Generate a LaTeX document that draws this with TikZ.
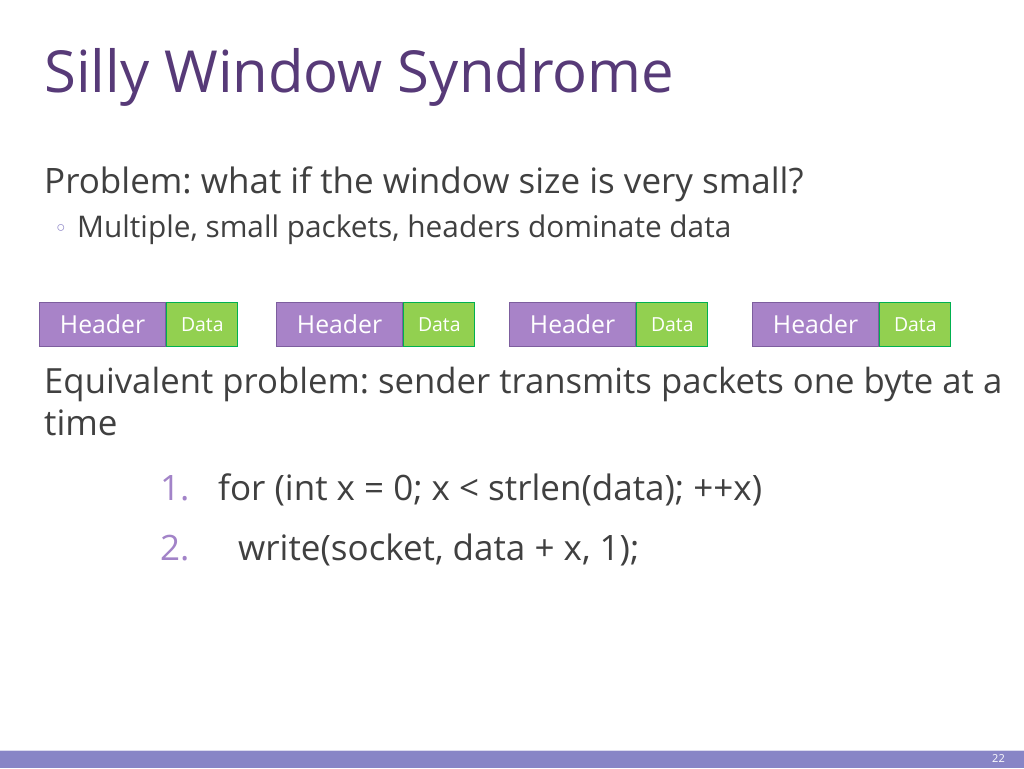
\documentclass[tikz,border=0pt]{standalone}
\usepackage{fontspec}
\setmainfont{Open Sans}
\newfontfamily\bulletfont{DejaVu Sans}
\definecolor{titlepurple}{HTML}{573A78}
\definecolor{bodygray}{HTML}{404040}
\definecolor{numlav}{HTML}{A283C8}
\definecolor{bulletlav}{HTML}{8C84C6}
\definecolor{hdrfill}{HTML}{A883C8}
\definecolor{hdrdraw}{HTML}{7D5E9E}
\definecolor{datafill}{HTML}{92D050}
\definecolor{datadraw}{HTML}{00B050}
\definecolor{barcol}{HTML}{8885C6}
\frenchspacing
\tikzset{
  txt/.style={anchor=base west, inner sep=0pt, text=bodygray},
  body/.style={txt, font=\fontsize{35}{40}\selectfont},
  hdrbox/.style={draw=hdrdraw, fill=hdrfill, line width=1.2pt, text=white, minimum width=126pt, minimum height=44pt, inner sep=0pt, anchor=north west, font=\fontsize{24.8}{28}\selectfont},
  databox/.style={draw=datadraw, fill=datafill, line width=1.2pt, text=white, minimum width=71pt, minimum height=44pt, inner sep=0pt, anchor=north west, font=\fontsize{19.4}{22}\selectfont},
}
\begin{document}
\begin{tikzpicture}[x=1pt,y=-1pt]
\useasboundingbox (0,0) rectangle (1024,768);
\fill[white] (0,0) rectangle (1024,768);
% title
\node[txt, text=titlepurple, font=\fontsize{58}{64}\selectfont] (title) at (44,92) {Silly Window Syndrome};
% body
\node[body] (p1) at (44,193) {Problem: what if the window size is very small?};
\node[txt, text=bulletlav, font=\bulletfont\fontsize{23}{26}\selectfont] (b1) at (54,236) {◦};
\node[txt, font=\fontsize{29.8}{34}\selectfont] (p2) at (77,237) {Multiple, small packets, headers dominate data};
% packets
\foreach \i/\x in {1/39,2/276,3/509,4/752}{
  \node[hdrbox] (h\i) at (\x,302) {Header};
  \node[databox] (d\i) at (h\i.north east) {Data};
}
% equivalent problem
\node[body, font=\fontsize{34.7}{40}\selectfont] (e1) at (44,393) {Equivalent problem: sender transmits packets one byte at a};
\node[body] (e2) at (44,435) {time};
% code
\node[body, text=numlav] (n1) at (160,500) {1.};
\node[body] (c1) at (218,500) {for (int x = 0; x < strlen(data); ++x)};
\node[body, text=numlav] (n2) at (160,560) {2.};
\node[body] (c2) at (238,560) {write(socket, data + x, 1);};
% footer bar
\fill[barcol] (0,750) rectangle (1024,768);
\draw[white!70!barcol, line width=0.8pt] (0,750) -- (1024,750);
\node[txt, text=white, font=\fontsize{11}{13}\selectfont] (pg) at (992,762) {22};
\end{tikzpicture}
\end{document}
